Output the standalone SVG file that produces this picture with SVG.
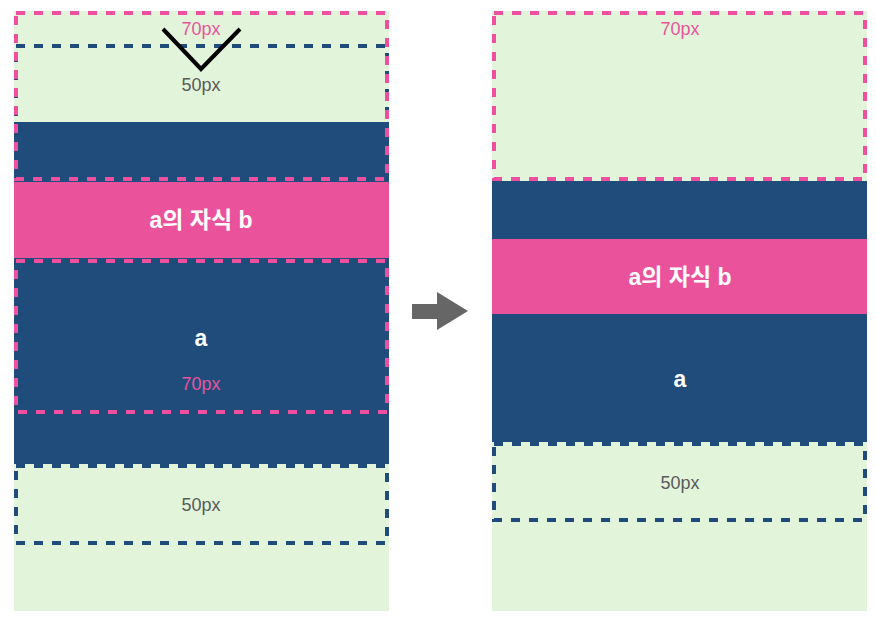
<svg xmlns="http://www.w3.org/2000/svg" width="876" height="621" viewBox="0 0 876 621">
<style>
.green{fill:#e2f5da}
.blue{fill:#1f4c7b}
.pink{fill:#ea539c}
.dp{fill:none;stroke:#ef4f9e;stroke-width:4;stroke-dasharray:9 9}
.db{fill:none;stroke:#1f4c7b;stroke-width:4;stroke-dasharray:9 9}
.t{font-family:"Liberation Sans","Noto Sans CJK KR",sans-serif;text-anchor:middle}
.tp{font-size:18px;fill:#ea539c}
.tg{font-size:18px;fill:#5a5a5a}
.tw{font-size:23px;font-weight:bold;fill:#ffffff}
</style>
<rect width="876" height="621" fill="#ffffff"/>
<g id="left">
  <rect class="green" x="14" y="11" width="375" height="600"/>
  <rect class="blue" x="14" y="122" width="375" height="342"/>
  <rect class="pink" x="14" y="182" width="375" height="76"/>
  <rect class="db" x="16" y="46" width="371" height="78"/>
  <rect class="dp" x="16" y="13" width="371" height="166"/>
  <rect class="dp" x="16" y="261" width="371" height="151"/>
  <rect class="db" x="16" y="466" width="371" height="77"/>
  <text class="t tp" x="201" y="35">70px</text>
  <text class="t tg" x="201" y="91">50px</text>
  <text class="t tw" x="201" y="228">a의 자식 b</text>
  <text class="t tw" x="201" y="346">a</text>
  <text class="t tp" x="201" y="390">70px</text>
  <text class="t tg" x="201" y="511">50px</text>
  <polyline points="163,29 201,69 240,29" fill="none" stroke="#000000" stroke-width="4"/>
</g>
<g id="arrow">
  <polygon points="412,304 437,304 437,292 468,311 437,330 437,319 412,319" fill="#666666"/>
</g>
<g id="right">
  <rect class="green" x="492" y="11" width="375" height="600"/>
  <rect class="blue" x="492" y="181" width="375" height="261"/>
  <rect class="pink" x="492" y="239" width="375" height="75"/>
  <rect class="dp" x="494" y="13" width="371" height="166"/>
  <rect class="db" x="494" y="444" width="371" height="76"/>
  <text class="t tp" x="680" y="35">70px</text>
  <text class="t tw" x="680" y="285">a의 자식 b</text>
  <text class="t tw" x="680" y="387">a</text>
  <text class="t tg" x="680" y="489">50px</text>
</g>
</svg>
